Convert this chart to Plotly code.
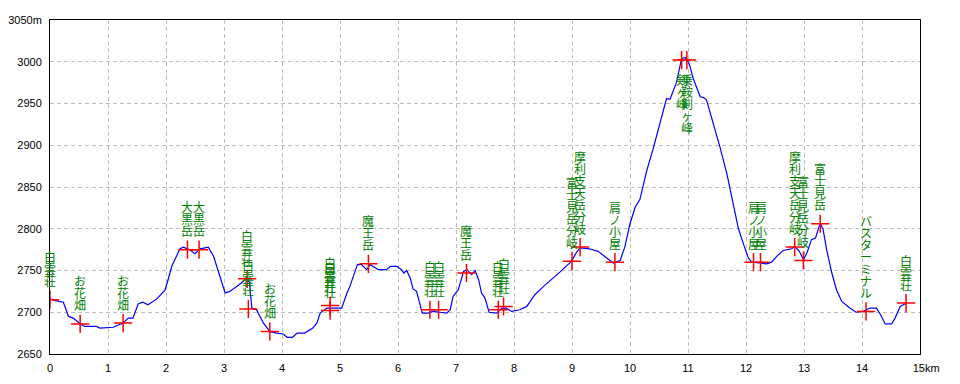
import plotly.graph_objects as go

# Elevation profile (distance in km, elevation in m)
dist_km = [0.00, 0.09, 0.23, 0.32, 0.40, 0.52, 0.60, 0.80, 0.86, 1.09, 1.26, 1.35, 1.43, 1.52, 1.60,
           1.69, 1.84, 1.98, 2.02, 2.10, 2.24, 2.30, 2.40, 2.50, 2.59, 2.73, 2.82, 2.93, 3.02, 3.10,
           3.22, 3.30, 3.39, 3.44, 3.48, 3.56, 3.62, 3.68, 3.79, 3.90, 4.02, 4.09, 4.18, 4.26, 4.39,
           4.53, 4.60, 4.66, 4.77, 5.03, 5.12, 5.17, 5.23, 5.30, 5.37, 5.46, 5.52, 5.66, 5.80, 5.87,
           5.98, 6.06, 6.10, 6.15, 6.21, 6.26, 6.32, 6.38, 6.42, 6.52, 6.60, 6.72, 6.84, 6.90, 6.95,
           7.04, 7.13, 7.19, 7.27, 7.33, 7.39, 7.44, 7.50, 7.57, 7.70, 7.79, 7.86, 7.96, 8.10, 8.22,
           8.36, 8.51, 8.68, 8.79, 8.99, 9.08, 9.14, 9.30, 9.45, 9.60, 9.71, 9.83, 9.91, 10.00, 10.09,
           10.17, 10.29, 10.40, 10.52, 10.63, 10.69, 10.80, 10.89, 10.95, 11.02, 11.09, 11.21, 11.27, 11.32, 11.44,
           11.55, 11.67, 11.78, 11.87, 11.93, 12.04, 12.10, 12.36, 12.44, 12.53, 12.64, 12.79, 12.84, 12.92, 12.99,
           13.05, 13.13, 13.20, 13.28, 13.33, 13.39, 13.48, 13.56, 13.65, 13.79, 13.90, 14.02, 14.14, 14.25, 14.32,
           14.40, 14.51, 14.57, 14.66, 14.77]
elev_m = [2716, 2714, 2712, 2695, 2693, 2686, 2683, 2683, 2681, 2682, 2687, 2693, 2693, 2710, 2712,
          2709, 2716, 2726, 2735, 2755, 2776, 2778, 2775, 2770, 2776, 2778, 2767, 2743, 2723, 2725,
          2731, 2735, 2741, 2735, 2705, 2703, 2695, 2687, 2677, 2675, 2674, 2670, 2670, 2675, 2675,
          2681, 2687, 2699, 2705, 2705, 2723, 2731, 2743, 2757, 2757, 2751, 2757, 2751, 2751, 2755,
          2755, 2751, 2747, 2750, 2741, 2728, 2725, 2709, 2699, 2699, 2701, 2700, 2699, 2703, 2719,
          2727, 2749, 2751, 2745, 2750, 2739, 2723, 2717, 2700, 2699, 2705, 2705, 2701, 2703, 2707,
          2721, 2731, 2741, 2748, 2761, 2772, 2777, 2776, 2773, 2765, 2759, 2762, 2778, 2806, 2826,
          2835, 2870, 2896, 2926, 2956, 2955, 2975, 3004, 3005, 2998, 2980, 2958, 2957, 2954, 2926,
          2898, 2866, 2830, 2800, 2787, 2765, 2760, 2758, 2760, 2767, 2774, 2776, 2779, 2773, 2763,
          2771, 2787, 2789, 2807, 2799, 2775, 2747, 2727, 2713, 2705, 2700, 2701, 2705, 2705, 2697,
          2686, 2686, 2693, 2707, 2711]

# Waypoints
wp_names = ["白雲荘", "お花畑", "お花畑", "大黒岳", "大黒岳", "白雲荘", "白雲荘", "お花畑",
            "白雲荘", "白雲荘", "魔王岳", "白雲荘", "白雲荘", "魔王岳", "白雲荘", "白雲荘",
            "富士見岳分岐", "摩利支天岳分岐", "肩ノ小屋", "剣ヶ峰", "乗鞍剣ヶ峰", "肩ノ小屋", "肩ノ小屋",
            "摩利支天岳分岐", "富士見岳分岐", "富士見岳", "バスターミナル", "白雲荘"]
wp_km = [0.00, 0.52, 1.26, 2.37, 2.57, 3.40, 3.42, 3.79,
         4.83, 4.83, 5.49, 6.55, 6.70, 7.18, 7.73, 7.82,
         9.00, 9.14, 9.74, 10.89, 10.98, 12.13, 12.25,
         12.84, 12.99, 13.28, 14.07, 14.76]
wp_elev = [2715, 2686, 2687, 2775, 2775, 2740, 2704, 2677,
           2708, 2702, 2758, 2703, 2703, 2747, 2703, 2707,
           2761, 2778, 2760, 3002, 3002, 2760, 2760,
           2778, 2762, 2806, 2701, 2711]
wp_below = [n in ("剣ヶ峰", "乗鞍剣ヶ峰") for n in wp_names]

y_ticks = [2650, 2700, 2750, 2800, 2850, 2900, 2950, 3000, 3050]
y_ticktext = ["2650", "2700", "2750", "2800", "2850", "2900", "2950", "3000", "3050m"]
x_ticks = list(range(16))
x_ticktext = [str(i) for i in range(15)] + ["\u00a0\u00a0\u00a0\u00a015km"]

fig = go.Figure()
fig.add_trace(go.Scatter(x=dist_km, y=elev_m, mode="lines",
                         line=dict(color="#0000ff", width=1.2), hoverinfo="skip"))
fig.add_trace(go.Scatter(x=wp_km, y=wp_elev, mode="markers",
                         marker=dict(symbol="cross-thin", size=13,
                                     line=dict(color="#ff0000", width=1.5)),
                         hoverinfo="skip"))

annotations = []
pitch = 12
for name, xk, ye, below in zip(wp_names, wp_km, wp_elev, wp_below):
    n = len(name)
    for i, ch in enumerate(name):
        if below:
            shift = -(19 + i * pitch)
        else:
            shift = 19 + (n - 1 - i) * pitch
        annotations.append(dict(x=xk, y=ye, xref="x", yref="y", text=ch, showarrow=False,
                                yshift=shift, xanchor="center", yanchor="middle",
                                font=dict(family="Noto Sans CJK JP", size=12, color="#008000")))

axis_common = dict(showline=True, linecolor="black", linewidth=1, mirror=True,
                   showgrid=True, gridcolor="#bdbdbd", griddash="4px,3px", gridwidth=1,
                   zeroline=False, automargin=False,
                   tickfont=dict(family="Liberation Sans", size=11, color="black"),
                   ticks="outside", tickcolor="rgba(0,0,0,0)")

# page body has an 8px default margin, so the figure is sized/offset to compensate
fig.update_layout(
    width=952, height=376,
    margin=dict(l=42, r=40, t=12, b=30, autoexpand=False),
    paper_bgcolor="white", plot_bgcolor="white",
    showlegend=False,
    annotations=annotations,
    xaxis=dict(range=[0, 15], tickvals=x_ticks, ticktext=x_ticktext, ticklen=4, **axis_common),
    yaxis=dict(range=[2650, 3050], tickvals=y_ticks, ticktext=y_ticktext, ticklen=5, **axis_common),
)

fig.write_html("out.html")
